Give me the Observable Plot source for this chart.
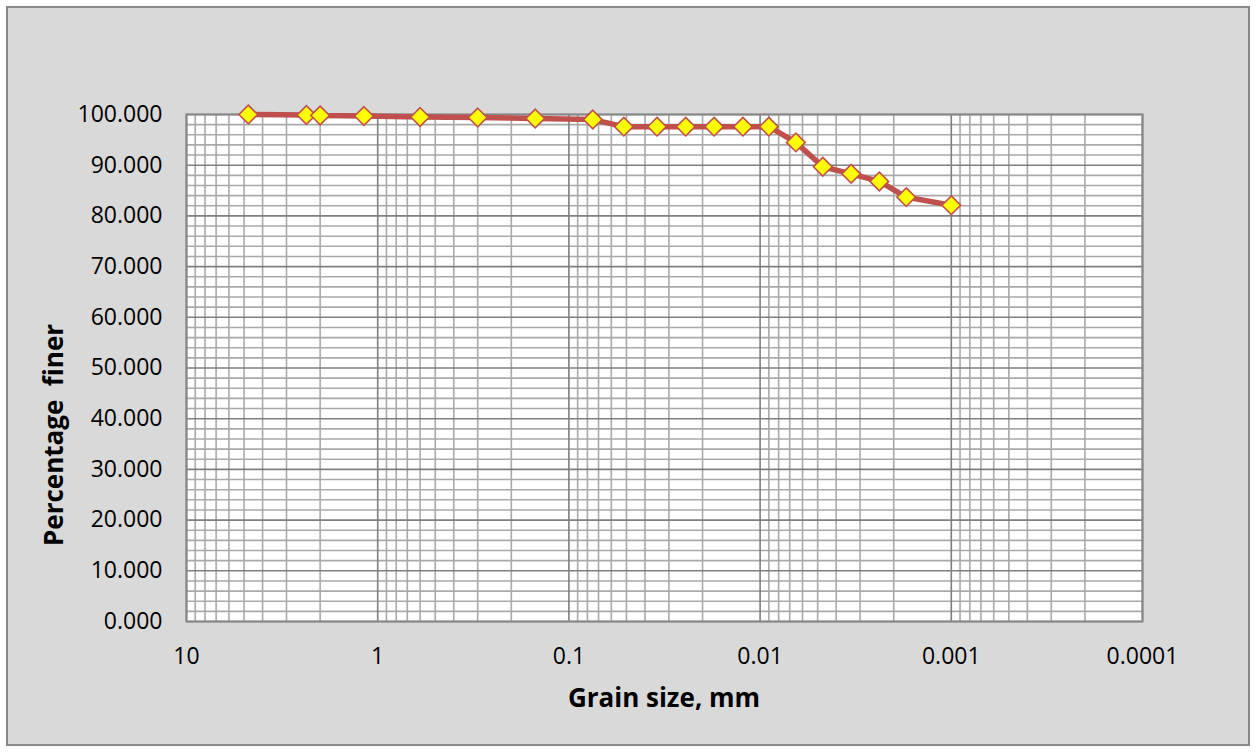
<!DOCTYPE html>
<html>
<head>
<meta charset="utf-8">
<script src="https://cdn.jsdelivr.net/npm/d3@7"></script>
<script src="https://cdn.jsdelivr.net/npm/@observablehq/plot@0.6"></script>
<style>
  body { margin: 0; background: #ffffff; }
  #chart svg { display: block; }
</style>
</head>
<body>
<div id="chart"></div>
<script>
// ---- data ----
const grainSize = [4.75, 2.36, 2.0, 1.18, 0.6, 0.3, 0.15, 0.075, 0.0516, 0.0346, 0.0245, 0.0174, 0.0123, 0.009, 0.0065, 0.0047, 0.00334, 0.00238, 0.00172, 0.001];
const percentFiner = [100, 99.9, 99.8, 99.7, 99.5, 99.4, 99.2, 99.0, 97.6, 97.6, 97.6, 97.6, 97.6, 97.6, 94.5, 89.7, 88.3, 86.8, 83.7, 82.1];
const xTickValues = [10, 1, 0.1, 0.01, 0.001, 0.0001];
const xTickLabels = ["10", "1", "0.1", "0.01", "0.001", "0.0001"];
const yTickValues = [0, 10, 20, 30, 40, 50, 60, 70, 80, 90, 100];
const xTitle = "Grain size, mm";
const yTitle = "Percentage  finer";

const data = grainSize.map((d, i) => ({size: d, finer: percentFiner[i]}));

// grid positions
const decades = [1, 0.1, 0.01, 0.001, 0.0001];
const minorX = [];
for (const dec of decades) for (let k = 2; k <= 9; k++) minorX.push(k * dec);
const majorX = xTickValues;
const minorY = d3.range(0, 101, 2).filter(v => v % 10 !== 0);
const majorY = yTickValues;

const W = 1257, H = 752;
const plot = Plot.plot({
  width: W,
  height: H,
  marginLeft: 186,
  marginRight: 115,
  marginTop: 114,
  marginBottom: 131,
  style: {fontFamily: "'Open Sans', sans-serif", fontSize: "23px", color: "#000", background: "transparent"},
  x: {
    type: "log",
    domain: [10, 0.0001],
    ticks: xTickValues,
    tickFormat: d => xTickLabels[xTickValues.indexOf(d)] ?? "",
    tickSize: 0,
    tickPadding: 26,
    label: null
  },
  y: {
    domain: [0, 100],
    ticks: yTickValues,
    tickFormat: d3.format(".3f"),
    tickSize: 0,
    tickPadding: 24,
    label: null
  },
  marks: [
    Plot.frame({fill: "#ffffff"}),
    Plot.ruleX(minorX, {stroke: "#a9a9a9", strokeWidth: 1.6}),
    Plot.ruleY(minorY, {stroke: "#a9a9a9", strokeWidth: 1.6}),
    Plot.ruleX(majorX, {stroke: "#7f7f7f", strokeWidth: 1.6}),
    Plot.ruleY(majorY, {stroke: "#7f7f7f", strokeWidth: 1.6}),
    Plot.frame({stroke: "#878787", strokeWidth: 2}),
    Plot.line(data, {x: "size", y: "finer", stroke: "#c0504d", strokeWidth: 5.5, strokeLinejoin: "round"}),
    Plot.dot(data, {x: "size", y: "finer", symbol: "diamond2", r: 8.4, fill: "#ffff00", stroke: "#c0504d", strokeWidth: 1.6})
  ]
});

const svg = d3.select(plot);
svg.style("background", "#ffffff");
svg.insert("rect", ":first-child")
  .attr("x", 7).attr("y", 7).attr("width", 1242).attr("height", 738)
  .attr("fill", "#d9d9d9").attr("stroke", "#898989").attr("stroke-width", 2);

svg.append("text")
  .attr("x", 664).attr("y", 707)
  .attr("text-anchor", "middle")
  .style("font-family", "'Open Sans', sans-serif")
  .style("font-size", "26px").style("font-weight", "bold").attr("fill", "#000")
  .text(xTitle);

svg.append("text")
  .attr("transform", "translate(63,435) rotate(-90)")
  .attr("text-anchor", "middle")
  .style("font-family", "'Open Sans', sans-serif")
  .style("font-size", "26px").style("font-weight", "bold").attr("fill", "#000")
  .style("white-space", "pre")
  .text(yTitle);

document.getElementById("chart").appendChild(plot);
</script>
</body>
</html>
